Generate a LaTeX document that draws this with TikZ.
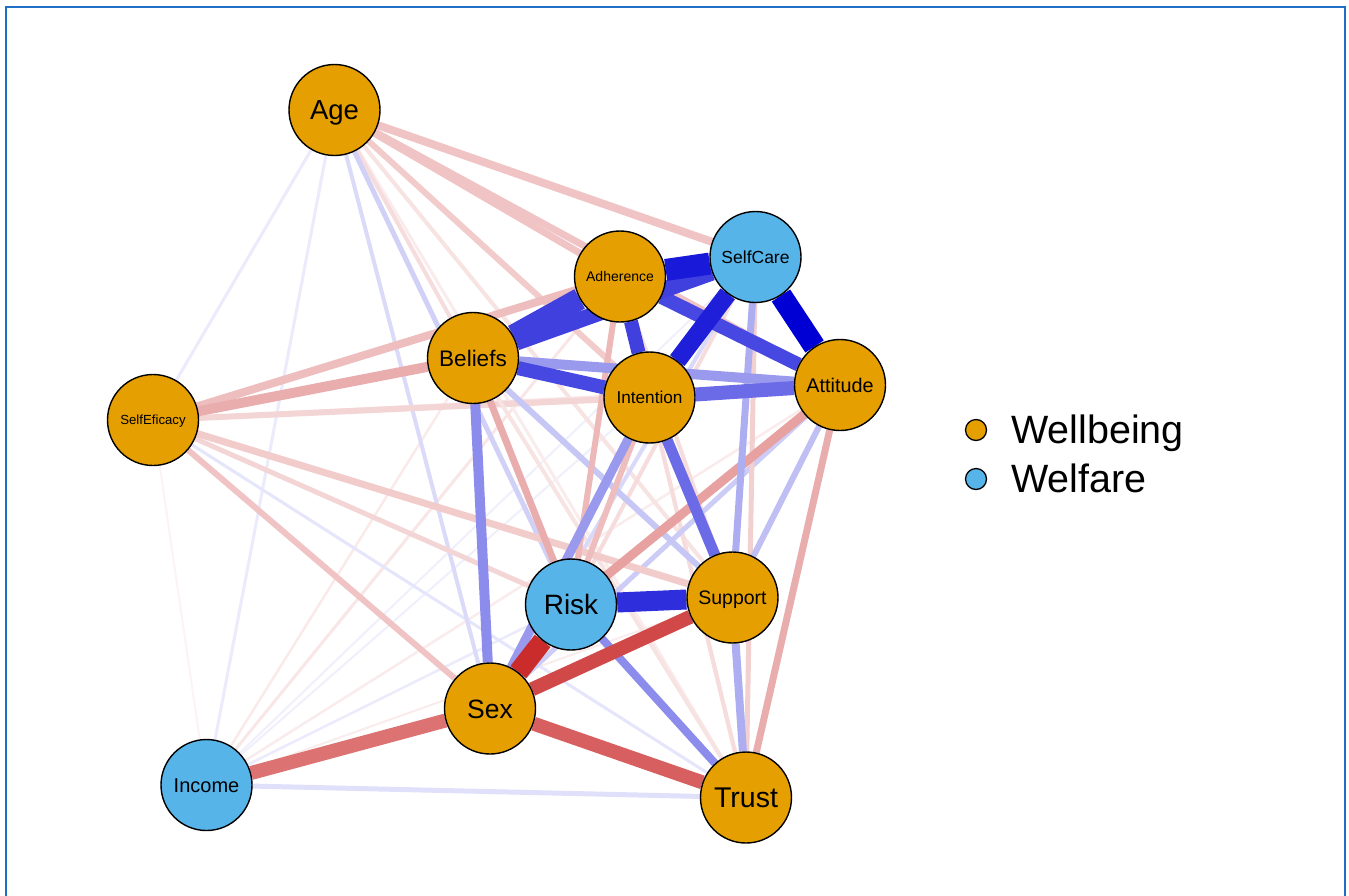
\documentclass[tikz,border=0pt]{standalone}
\usepackage{fontspec}
\setmainfont{Liberation Sans}
\definecolor{orng}{HTML}{E69F00}
\definecolor{skyb}{HTML}{56B4E9}
\definecolor{pbl}{HTML}{0000D5}
\definecolor{nrd}{HTML}{C41414}
\definecolor{framecol}{HTML}{1F6FC5}
\pgfdeclarelayer{bglayer}
\pgfdeclarelayer{edgelayer}
\pgfsetlayers{bglayer,edgelayer,main}
\tikzset{
  posE/.style 2 args={draw=pbl!#1!white, line width=#2pt},
  negE/.style 2 args={draw=nrd!#1!white, line width=#2pt},
  nd/.style={circle, draw=black, line width=1.4pt, minimum size=91pt, inner sep=0pt, text depth=0pt},
  fs/.style={font=\fontsize{#1pt}{#1pt}\selectfont, text height={0.716*#1pt}},
  wb/.style={nd, fill=orng},
  wf/.style={nd, fill=skyb},
  lgdot/.style={circle, draw=black, line width=1.3pt, minimum size=21pt, inner sep=0pt},
  lgtext/.style={anchor=base west, inner sep=0pt, font=\fontsize{39.5pt}{39.5pt}\selectfont},
}
\begin{document}
\begin{tikzpicture}[x=1pt,y=-1pt]
\useasboundingbox (0,0) rectangle (1349,895);
\begin{pgfonlayer}{bglayer}
\fill[white] (0,0) rectangle (1349,895);
\end{pgfonlayer}
\draw[framecol, line width=2pt] (6,900) -- (6,7) -- (1345,7) -- (1345,900);

% nodes
\node[wb, fs=27.5] (age)   at (334.5,110) {Age};
\node[wb, fs=14] (adh) at (620,276.5) {Adherence};
\node[wf, fs=17.5] (scare) at (755.5,257) {SelfCare};
\node[wb, fs=22.5] (bel)   at (473,358) {Beliefs};
\node[wb, fs=17.2] (intn)  at (649.5,397.5) {Intention};
\node[wb, fs=19.8] (att) at (840,385) {Attitude};
\node[wb, fs=13.2] (seff) at (153,420) {SelfEficacy};
\node[wf, fs=28] (risk) at (571,604.5) {Risk};
\node[wb, fs=19.5] (sup) at (732.5,597.5) {Support};
\node[wb, fs=26.5] (sex)   at (490,708.5) {Sex};
\node[wf, fs=20] (inc)   at (206.5,785) {Income};
\node[wb, fs=28.5] (trust) at (746,797.5) {Trust};

% legend
\node[lgdot, fill=orng] (lg1) at (976,430) {};
\node[lgdot, fill=skyb] (lg2) at (976,479) {};
\node[lgtext] (lg1t) at (1011,443) {Wellbeing};
\node[lgtext] (lg2t) at (1011,492) {Welfare};

\begin{pgfonlayer}{edgelayer}
% very weak
\draw[negE={5}{2}] (seff) -- (inc);
\draw[posE={6}{2}] (inc) -- (scare);
\draw[posE={6}{2}] (inc) -- (intn);
\draw[negE={8}{2}] (inc) -- (sup);
\draw[negE={9}{2.5}] (inc) -- (bel);
\draw[negE={10}{3}] (inc) -- (adh);
\draw[negE={8}{2.5}] (inc) -- (att);
\draw[posE={8}{2.5}] (inc) -- (risk);
\draw[posE={8}{3}] (age) -- (inc);
\draw[posE={8}{3}] (age) -- (seff);
\draw[negE={8}{3}] (age) -- (trust);
\draw[posE={10}{3}] (seff) -- (trust);
% moderate
\draw[negE={12}{4}] (age) -- (sup);
\draw[negE={15}{4}] (age) -- (bel);
\draw[posE={14}{4}] (age) -- (sex);
\draw[posE={18}{5}] (age) -- (risk);
\draw[negE={12}{4}] (seff) -- (att);
\draw[negE={18}{6}] (seff) -- (intn);
\draw[negE={18}{5}] (seff) -- (risk);
\draw[posE={12}{5}] (inc) -- (trust);
\draw[negE={12}{4}] (adh) -- (trust);
\draw[negE={15}{4}] (adh) -- (sup);
\draw[negE={12}{4}] (bel) -- (trust);
\draw[negE={15}{4}] (intn) -- (trust);
\draw[negE={15}{4}] (scare) -- (risk);
\draw[posE={15}{4}] (scare) -- (sex);
\draw[posE={20}{5}] (att) -- (sex);
\draw[negE={20}{5}] (scare) -- (trust);
\draw[negE={22}{6}] (age) -- (intn);
\draw[negE={22}{7}] (seff) -- (sup);
\draw[negE={25}{6}] (seff) -- (sex);
\draw[negE={25}{7}] (age) -- (adh);
\draw[negE={25}{7}] (age) -- (att);
\draw[negE={25}{8}] (age) -- (scare);
\draw[negE={28}{8}] (seff) -- (adh);
\draw[negE={35}{10}] (seff) -- (bel);
\draw[posE={22}{6}] (bel) -- (sup);
\draw[posE={25}{6}] (att) -- (sup);
\draw[negE={28}{6}] (intn) -- (risk);
\draw[negE={30}{6}] (adh) -- (risk);
\draw[negE={35}{7}] (bel) -- (risk);
\draw[negE={35}{7}] (att) -- (trust);
\draw[negE={40}{9}] (att) -- (risk);
\draw[posE={32}{7}] (scare) -- (sup);
\draw[posE={32}{8}] (sup) -- (trust);
\draw[posE={40}{9}] (intn) -- (sex);
\draw[posE={45}{10}] (bel) -- (sex);
\draw[posE={40}{10}] (bel) -- (att);
\draw[posE={45}{8}] (risk) -- (trust);
% strong
\draw[posE={58}{11}] (intn) -- (sup);
\draw[posE={58}{14}] (intn) -- (att);
\draw[negE={60}{14}] (sex) -- (inc);
\draw[negE={68}{14}] (sex) -- (trust);
\draw[posE={72}{14}] (adh) -- (att);
\draw[posE={72}{14}] (bel) -- (intn);
\draw[posE={75}{14}] (adh) -- (intn);
\draw[posE={75}{16}] (bel) -- (scare);
\draw[negE={78}{14}] (sex) -- (sup);
\draw[posE={75}{22}] (adh) -- (bel);
\draw[posE={82}{20}] (risk) -- (sup);
\draw[posE={88}{18}] (scare) -- (intn);
\draw[negE={90}{20}] (sex) -- (risk);
\draw[posE={90}{22}] (adh) -- (scare);
\draw[posE={100}{22}] (scare) -- (att);
\end{pgfonlayer}
\end{tikzpicture}
\end{document}
